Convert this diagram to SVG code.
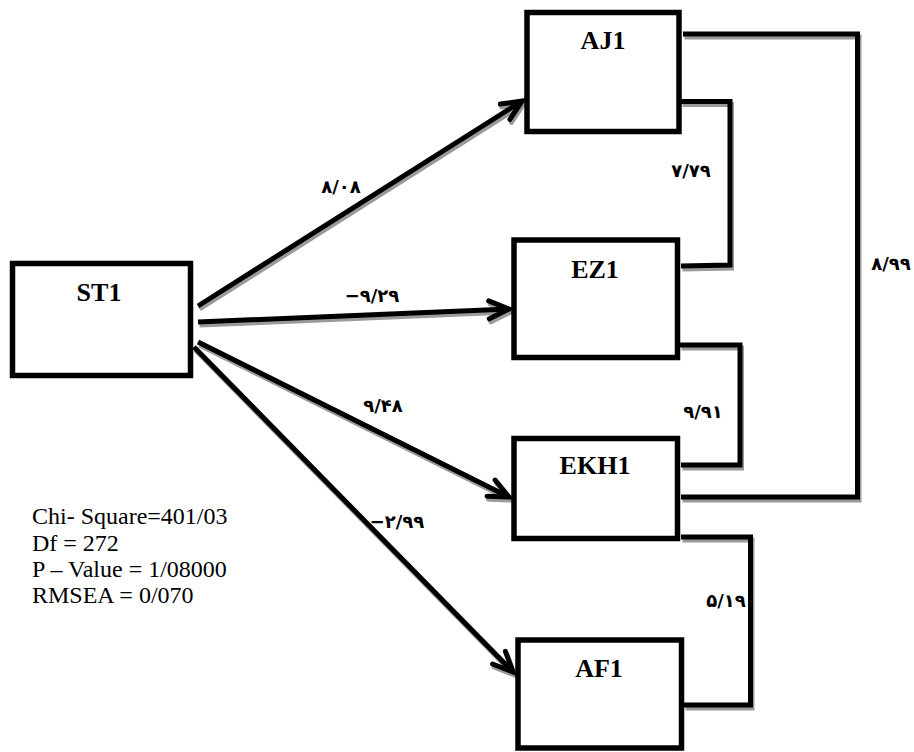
<svg xmlns="http://www.w3.org/2000/svg" width="914" height="752" viewBox="0 0 914 752">
<defs>
<style>
.box{fill:#fff;stroke:#000;stroke-width:5.5}
.lbl{font-family:"Liberation Serif","Times New Roman",serif;font-weight:bold;font-size:26px;text-anchor:middle}
.num{font-family:"DejaVu Sans","Noto Sans",sans-serif;font-weight:bold;font-size:18px;text-anchor:middle}
.stat{font-family:"Liberation Serif","Times New Roman",serif;font-size:24px}
.ln{fill:none;stroke:#000;stroke-width:5}
.sh{fill:none;stroke:#9a9a9a;stroke-width:5}
</style>
<marker id="ah" markerUnits="userSpaceOnUse" viewBox="-24 -12 28 24" refX="0" refY="0" markerWidth="28" markerHeight="24" orient="auto" overflow="visible">
<path d="M-20,-9 L0,0 L-20,9" fill="none" stroke="#000" stroke-width="5" stroke-linecap="round" stroke-linejoin="miter"/>
</marker>
<marker id="ahs" markerUnits="userSpaceOnUse" viewBox="-24 -12 28 24" refX="0" refY="0" markerWidth="28" markerHeight="24" orient="auto" overflow="visible">
<path d="M-20,-9 L0,0 L-20,9" fill="none" stroke="#9a9a9a" stroke-width="5" stroke-linecap="round"/>
</marker>
</defs>
<rect width="914" height="752" fill="#fff"/>
<g id="connectors">
<g transform="translate(1.5,3)">
<path class="sh" d="M198,306 L522,101" marker-end="url(#ahs)"/>
<path class="sh" d="M198,322 L509,309" marker-end="url(#ahs)"/>
<path class="sh" d="M198,342 L509,497" marker-end="url(#ahs)"/>
<path class="sh" d="M194,347 L513,672" marker-end="url(#ahs)"/>
<path class="sh" d="M681,101.5 H730 V265 L681,266"/>
<path class="sh" d="M683,34 H857.5 V497 H681"/>
<path class="sh" d="M680,345 H740 V465 H681"/>
<path class="sh" d="M681,537 H750.5 V705 H684"/>
</g>
<path class="ln" d="M198,306 L522,101" marker-end="url(#ah)"/>
<path class="ln" d="M198,322 L509,309" marker-end="url(#ah)"/>
<path class="ln" d="M198,342 L509,497" marker-end="url(#ah)"/>
<path class="ln" d="M194,347 L513,672" marker-end="url(#ah)"/>
<path class="ln" d="M681,101.5 H730 V265 L681,266"/>
<path class="ln" d="M683,34 H857.5 V497 H681"/>
<path class="ln" d="M680,345 H740 V465 H681"/>
<path class="ln" d="M681,537 H750.5 V705 H684"/>
<text class="num" x="341" y="193">۸/۰۸</text>
<text class="num" x="372" y="302">−۹/۲۹</text>
<text class="num" x="383" y="412">۹/۴۸</text>
<text class="num" x="397" y="528">−۲/۹۹</text>
<text class="num" x="691" y="177">۷/۷۹</text>
<text class="num" x="891" y="270">۸/۹۹</text>
<text class="num" x="703" y="418">۹/۹۱</text>
<text class="num" x="726" y="607">۵/۱۹</text>
</g>
<g id="ST1"><rect class="box" x="12.5" y="263.5" width="178" height="112"/><text class="lbl" x="99" y="301">ST1</text></g>
<g id="AJ1"><rect class="box" x="527" y="12.5" width="152" height="119"/><text class="lbl" x="603" y="49">AJ1</text></g>
<g id="EZ1"><rect class="box" x="514" y="240" width="163.5" height="117.5"/><text class="lbl" x="595" y="278">EZ1</text></g>
<g id="EKH1"><rect class="box" x="514" y="438.5" width="163.5" height="100"/><text class="lbl" x="595" y="474">EKH1</text></g>
<g id="AF1"><rect class="box" x="518" y="640" width="163.5" height="108"/><text class="lbl" x="599" y="677">AF1</text></g>
<g id="stats">
<text class="stat" x="32" y="524">Chi- Square=401/03</text>
<text class="stat" x="32" y="551">Df = 272</text>
<text class="stat" x="32" y="577">P – Value = 1/08000</text>
<text class="stat" x="32" y="603">RMSEA = 0/070</text>
</g>
</svg>
